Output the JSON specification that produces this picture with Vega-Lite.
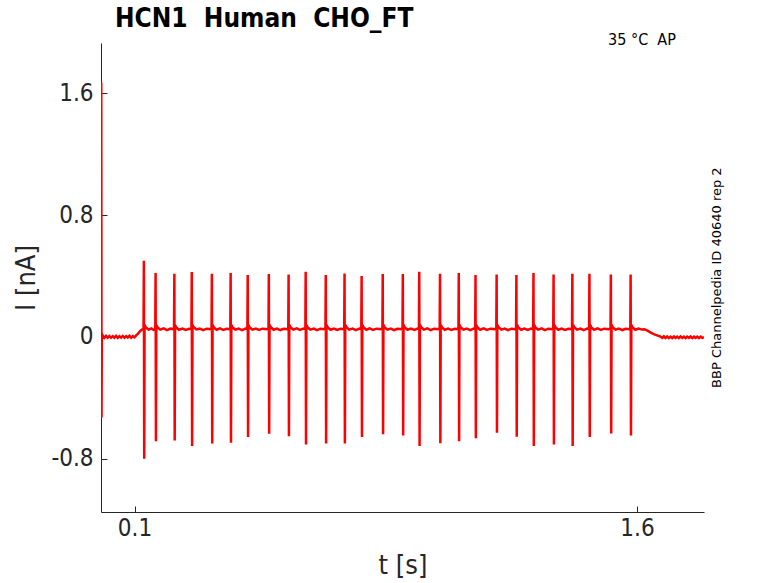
{
  "$schema": "https://vega.github.io/schema/vega-lite/v6.json",
  "autosize": {"type": "none"},
  "padding": {"left": 101, "top": 43, "right": 74, "bottom": 71},
  "width": 603,
  "height": 469,
  "background": "white",
  "title": {"text": "HCN1 \u00a0Human \u00a0CHO_FT", "anchor": "start", "frame": "group", "dx": 14, "offset": 0, "dy": 0, "fontSize": 26, "fontWeight": "bold", "font": "DejaVu Sans Condensed, DejaVu Sans", "color": "#000000"},
  "config": {
    "view": {"stroke": null},
    "axis": {"grid": false, "domainColor": "#262626", "tickColor": "#262626", "labelColor": "#262626", "titleColor": "#262626", "labelFont": "DejaVu Sans Condensed, DejaVu Sans", "titleFont": "DejaVu Sans Condensed, DejaVu Sans", "titleFontWeight": "normal", "labelFontSize": 24, "titleFontSize": 27, "tickSize": -6, "domainWidth": 1, "tickWidth": 1}
  },
  "datasets": {
    "trace": [
      {"t": 0, "i": 0}, {"t": 0.0008, "i": 1.67}, {"t": 0.0016, "i": -0.53}, {"t": 0.0025, "i": 0.02}, {"t": 0.006, "i": 0.005},
      {"t": 0.010, "i": -0.006}, {"t": 0.015, "i": 0.007}, {"t": 0.020, "i": -0.005}, {"t": 0.025, "i": 0.006}, {"t": 0.030, "i": -0.006}, {"t": 0.035, "i": 0.005}, {"t": 0.040, "i": -0.005}, {"t": 0.045, "i": 0.007}, {"t": 0.050, "i": -0.006}, {"t": 0.055, "i": 0.005},
      {"t": 0.060, "i": -0.005}, {"t": 0.065, "i": 0.006}, {"t": 0.070, "i": -0.006}, {"t": 0.075, "i": 0.005}, {"t": 0.080, "i": -0.004}, {"t": 0.085, "i": 0.007}, {"t": 0.090, "i": -0.005}, {"t": 0.095, "i": 0.005}, {"t": 0.100, "i": -0.003},
      {"t": 0.105, "i": 0.01}, {"t": 0.110, "i": 0.02}, {"t": 0.118, "i": 0.04}, {"t": 0.124, "i": 0.05},
      {"t": 0.127, "i": 0.05}, {"t": 0.128, "i": 0.50}, {"t": 0.129, "i": -0.80}, {"t": 0.130, "i": 0.08}, {"t": 0.134, "i": 0.062}, {"t": 0.142, "i": 0.048}, {"t": 0.150, "i": 0.055}, {"t": 0.157, "i": 0.046},
      {"t": 0.162, "i": 0.05}, {"t": 0.163, "i": 0.42}, {"t": 0.164, "i": -0.685}, {"t": 0.165, "i": 0.08}, {"t": 0.169, "i": 0.062}, {"t": 0.177, "i": 0.048}, {"t": 0.187, "i": 0.056}, {"t": 0.197, "i": 0.045}, {"t": 0.207, "i": 0.054},
      {"t": 0.218, "i": 0.05}, {"t": 0.219, "i": 0.415}, {"t": 0.220, "i": -0.68}, {"t": 0.221, "i": 0.078}, {"t": 0.225, "i": 0.061}, {"t": 0.233, "i": 0.047}, {"t": 0.243, "i": 0.055}, {"t": 0.253, "i": 0.046}, {"t": 0.263, "i": 0.053},
      {"t": 0.270, "i": 0.05}, {"t": 0.271, "i": 0.426}, {"t": 0.272, "i": -0.717}, {"t": 0.273, "i": 0.08}, {"t": 0.277, "i": 0.063}, {"t": 0.285, "i": 0.049}, {"t": 0.295, "i": 0.055}, {"t": 0.305, "i": 0.045}, {"t": 0.315, "i": 0.054},
      {"t": 0.330, "i": 0.05}, {"t": 0.331, "i": 0.415}, {"t": 0.332, "i": -0.70}, {"t": 0.333, "i": 0.079}, {"t": 0.337, "i": 0.062}, {"t": 0.345, "i": 0.047}, {"t": 0.355, "i": 0.056}, {"t": 0.365, "i": 0.046}, {"t": 0.375, "i": 0.053},
      {"t": 0.386, "i": 0.05}, {"t": 0.387, "i": 0.42}, {"t": 0.388, "i": -0.695}, {"t": 0.389, "i": 0.08}, {"t": 0.393, "i": 0.061}, {"t": 0.401, "i": 0.048}, {"t": 0.411, "i": 0.055}, {"t": 0.421, "i": 0.045}, {"t": 0.431, "i": 0.054},
      {"t": 0.437, "i": 0.05}, {"t": 0.438, "i": 0.406}, {"t": 0.439, "i": -0.658}, {"t": 0.440, "i": 0.078}, {"t": 0.444, "i": 0.062}, {"t": 0.452, "i": 0.048}, {"t": 0.462, "i": 0.055}, {"t": 0.472, "i": 0.046}, {"t": 0.482, "i": 0.054},
      {"t": 0.500, "i": 0.05}, {"t": 0.501, "i": 0.413}, {"t": 0.502, "i": -0.636}, {"t": 0.503, "i": 0.08}, {"t": 0.507, "i": 0.063}, {"t": 0.515, "i": 0.047}, {"t": 0.525, "i": 0.055}, {"t": 0.535, "i": 0.045}, {"t": 0.545, "i": 0.053},
      {"t": 0.559, "i": 0.05}, {"t": 0.560, "i": 0.41}, {"t": 0.561, "i": -0.652}, {"t": 0.562, "i": 0.079}, {"t": 0.566, "i": 0.062}, {"t": 0.574, "i": 0.048}, {"t": 0.584, "i": 0.056}, {"t": 0.594, "i": 0.046}, {"t": 0.604, "i": 0.054},
      {"t": 0.610, "i": 0.05}, {"t": 0.611, "i": 0.428}, {"t": 0.612, "i": -0.706}, {"t": 0.613, "i": 0.08}, {"t": 0.617, "i": 0.061}, {"t": 0.625, "i": 0.048}, {"t": 0.635, "i": 0.055}, {"t": 0.645, "i": 0.045}, {"t": 0.655, "i": 0.054},
      {"t": 0.670, "i": 0.05}, {"t": 0.671, "i": 0.406}, {"t": 0.672, "i": -0.70}, {"t": 0.673, "i": 0.078}, {"t": 0.677, "i": 0.062}, {"t": 0.685, "i": 0.047}, {"t": 0.695, "i": 0.055}, {"t": 0.705, "i": 0.046}, {"t": 0.715, "i": 0.053},
      {"t": 0.726, "i": 0.05}, {"t": 0.727, "i": 0.417}, {"t": 0.728, "i": -0.70}, {"t": 0.729, "i": 0.08}, {"t": 0.733, "i": 0.063}, {"t": 0.741, "i": 0.048}, {"t": 0.751, "i": 0.055}, {"t": 0.761, "i": 0.045}, {"t": 0.771, "i": 0.054},
      {"t": 0.777, "i": 0.05}, {"t": 0.778, "i": 0.40}, {"t": 0.779, "i": -0.658}, {"t": 0.780, "i": 0.079}, {"t": 0.784, "i": 0.062}, {"t": 0.792, "i": 0.047}, {"t": 0.802, "i": 0.056}, {"t": 0.812, "i": 0.046}, {"t": 0.822, "i": 0.054},
      {"t": 0.840, "i": 0.05}, {"t": 0.841, "i": 0.413}, {"t": 0.842, "i": -0.64}, {"t": 0.843, "i": 0.08}, {"t": 0.847, "i": 0.061}, {"t": 0.855, "i": 0.048}, {"t": 0.865, "i": 0.055}, {"t": 0.875, "i": 0.045}, {"t": 0.885, "i": 0.053},
      {"t": 0.900, "i": 0.05}, {"t": 0.901, "i": 0.413}, {"t": 0.902, "i": -0.647}, {"t": 0.903, "i": 0.078}, {"t": 0.907, "i": 0.062}, {"t": 0.915, "i": 0.047}, {"t": 0.925, "i": 0.055}, {"t": 0.935, "i": 0.046}, {"t": 0.945, "i": 0.054},
      {"t": 0.949, "i": 0.05}, {"t": 0.950, "i": 0.428}, {"t": 0.951, "i": -0.717}, {"t": 0.952, "i": 0.08}, {"t": 0.956, "i": 0.063}, {"t": 0.964, "i": 0.048}, {"t": 0.974, "i": 0.056}, {"t": 0.984, "i": 0.045}, {"t": 0.994, "i": 0.054},
      {"t": 1.011, "i": 0.05}, {"t": 1.012, "i": 0.415}, {"t": 1.013, "i": -0.698}, {"t": 1.014, "i": 0.079}, {"t": 1.018, "i": 0.062}, {"t": 1.026, "i": 0.047}, {"t": 1.036, "i": 0.055}, {"t": 1.046, "i": 0.046}, {"t": 1.056, "i": 0.053},
      {"t": 1.067, "i": 0.05}, {"t": 1.068, "i": 0.42}, {"t": 1.069, "i": -0.685}, {"t": 1.070, "i": 0.08}, {"t": 1.074, "i": 0.061}, {"t": 1.082, "i": 0.048}, {"t": 1.092, "i": 0.055}, {"t": 1.102, "i": 0.045}, {"t": 1.112, "i": 0.054},
      {"t": 1.117, "i": 0.05}, {"t": 1.118, "i": 0.406}, {"t": 1.119, "i": -0.665}, {"t": 1.120, "i": 0.078}, {"t": 1.124, "i": 0.062}, {"t": 1.132, "i": 0.047}, {"t": 1.142, "i": 0.056}, {"t": 1.152, "i": 0.046}, {"t": 1.162, "i": 0.054},
      {"t": 1.180, "i": 0.05}, {"t": 1.181, "i": 0.41}, {"t": 1.182, "i": -0.63}, {"t": 1.183, "i": 0.08}, {"t": 1.187, "i": 0.063}, {"t": 1.195, "i": 0.048}, {"t": 1.205, "i": 0.055}, {"t": 1.215, "i": 0.045}, {"t": 1.225, "i": 0.053},
      {"t": 1.239, "i": 0.05}, {"t": 1.240, "i": 0.406}, {"t": 1.241, "i": -0.656}, {"t": 1.242, "i": 0.079}, {"t": 1.246, "i": 0.062}, {"t": 1.254, "i": 0.047}, {"t": 1.264, "i": 0.055}, {"t": 1.274, "i": 0.046}, {"t": 1.284, "i": 0.054},
      {"t": 1.290, "i": 0.05}, {"t": 1.291, "i": 0.42}, {"t": 1.292, "i": -0.717}, {"t": 1.293, "i": 0.08}, {"t": 1.297, "i": 0.061}, {"t": 1.305, "i": 0.048}, {"t": 1.315, "i": 0.056}, {"t": 1.325, "i": 0.045}, {"t": 1.335, "i": 0.054},
      {"t": 1.350, "i": 0.05}, {"t": 1.351, "i": 0.41}, {"t": 1.352, "i": -0.706}, {"t": 1.353, "i": 0.078}, {"t": 1.357, "i": 0.062}, {"t": 1.365, "i": 0.047}, {"t": 1.375, "i": 0.055}, {"t": 1.385, "i": 0.046}, {"t": 1.395, "i": 0.053},
      {"t": 1.406, "i": 0.05}, {"t": 1.407, "i": 0.415}, {"t": 1.408, "i": -0.717}, {"t": 1.409, "i": 0.08}, {"t": 1.413, "i": 0.063}, {"t": 1.421, "i": 0.048}, {"t": 1.431, "i": 0.055}, {"t": 1.441, "i": 0.045}, {"t": 1.451, "i": 0.054},
      {"t": 1.457, "i": 0.05}, {"t": 1.458, "i": 0.415}, {"t": 1.459, "i": -0.658}, {"t": 1.460, "i": 0.079}, {"t": 1.464, "i": 0.062}, {"t": 1.472, "i": 0.047}, {"t": 1.482, "i": 0.056}, {"t": 1.492, "i": 0.046}, {"t": 1.502, "i": 0.054},
      {"t": 1.521, "i": 0.05}, {"t": 1.522, "i": 0.41}, {"t": 1.523, "i": -0.634}, {"t": 1.524, "i": 0.08}, {"t": 1.528, "i": 0.061}, {"t": 1.536, "i": 0.048}, {"t": 1.546, "i": 0.055}, {"t": 1.556, "i": 0.045}, {"t": 1.566, "i": 0.053},
      {"t": 1.580, "i": 0.05}, {"t": 1.581, "i": 0.41}, {"t": 1.582, "i": -0.647}, {"t": 1.583, "i": 0.078}, {"t": 1.587, "i": 0.062}, {"t": 1.595, "i": 0.047}, {"t": 1.605, "i": 0.055}, {"t": 1.615, "i": 0.048},
      {"t": 1.622, "i": 0.05}, {"t": 1.630, "i": 0.043}, {"t": 1.640, "i": 0.03}, {"t": 1.650, "i": 0.018}, {"t": 1.660, "i": 0.01}, {"t": 1.670, "i": 0.002},
      {"t": 1.675, "i": -0.006}, {"t": 1.680, "i": 0.004}, {"t": 1.685, "i": -0.007}, {"t": 1.690, "i": 0.003}, {"t": 1.695, "i": -0.008}, {"t": 1.700, "i": 0.002}, {"t": 1.705, "i": -0.008}, {"t": 1.710, "i": 0.003},
      {"t": 1.715, "i": -0.007}, {"t": 1.720, "i": 0.002}, {"t": 1.725, "i": -0.008}, {"t": 1.730, "i": 0.003}, {"t": 1.735, "i": -0.007}, {"t": 1.740, "i": 0.002}, {"t": 1.745, "i": -0.008}, {"t": 1.750, "i": 0.002},
      {"t": 1.755, "i": -0.007}, {"t": 1.760, "i": 0.003}, {"t": 1.765, "i": -0.008}, {"t": 1.770, "i": 0.002}, {"t": 1.775, "i": -0.007}, {"t": 1.780, "i": 0.002}, {"t": 1.785, "i": -0.008}, {"t": 1.790, "i": 0.002}, {"t": 1.795, "i": -0.006}, {"t": 1.800, "i": -0.002}
    ]
  },
  "layer": [
    {
      "data": {"name": "trace"},
      "mark": {"type": "line", "color": "#ff0000", "strokeWidth": 2.5, "clip": true},
      "encoding": {
        "x": {"field": "t", "type": "quantitative", "scale": {"domain": [0, 1.8], "nice": false, "zero": false},
              "axis": {"values": [0.1, 1.6], "title": "t [s]", "labelPadding": 10, "titlePadding": 12}},
        "y": {"field": "i", "type": "quantitative", "scale": {"domain": [-1.15, 1.93], "nice": false, "zero": false},
              "axis": {"values": [-0.8, 0, 0.8, 1.6], "title": "I [nA]", "labelPadding": 14, "titlePadding": 10,
                       "labelExpr": "datum.value == 0 ? '0' : replace(datum.label, '\u2212', '-')"}}
      }
    },
    {
      "data": {"values": [{"label": "35 °C \u00a0AP"}]},
      "mark": {"type": "text", "align": "right", "baseline": "middle", "fontSize": 16, "font": "DejaVu Sans Condensed, DejaVu Sans", "color": "#000000"},
      "encoding": {
        "x": {"datum": 1.716, "type": "quantitative"},
        "y": {"datum": 1.95, "type": "quantitative"},
        "text": {"field": "label"}
      }
    },
    {
      "data": {"values": [{"label": "BBP Channelpedia ID 40640 rep 2"}]},
      "mark": {"type": "text", "align": "center", "baseline": "middle", "angle": 270, "fontSize": 13, "font": "DejaVu Sans", "color": "#000000"},
      "encoding": {
        "x": {"datum": 1.839, "type": "quantitative"},
        "y": {"datum": 0.389, "type": "quantitative"},
        "text": {"field": "label"}
      }
    }
  ]
}
